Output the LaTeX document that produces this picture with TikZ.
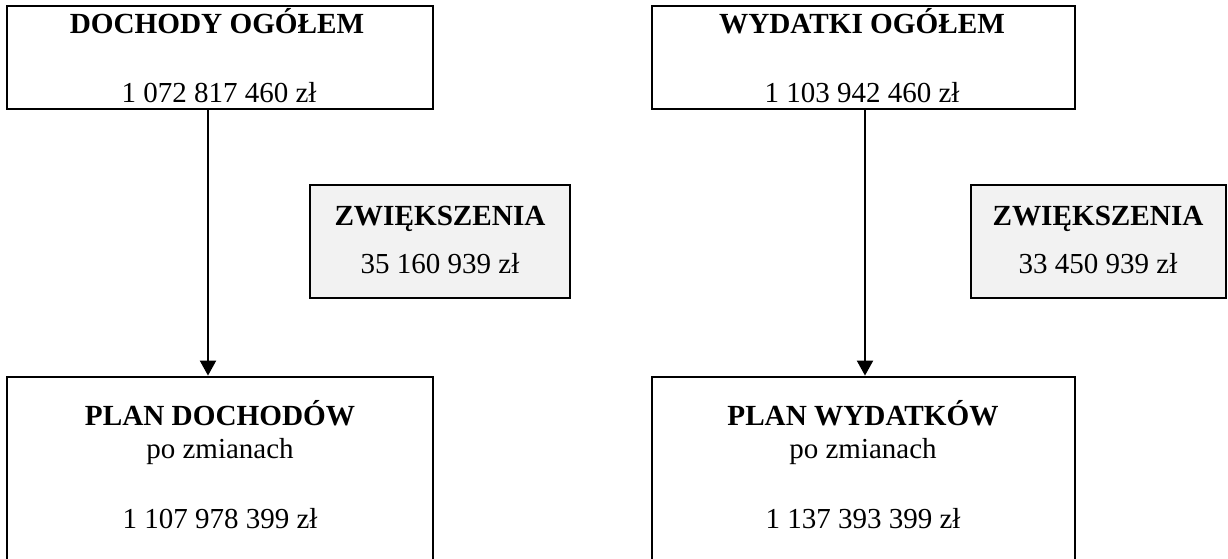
\documentclass[tikz,border=0pt]{standalone}
\usepackage{fontspec}
\setmainfont{Liberation Serif}
\usetikzlibrary{arrows.meta}
\begin{document}
\begin{tikzpicture}[x=0.5pt,y=-0.5pt,
  box/.style={draw,line width=1.4pt,inner sep=0pt},
  plus/.style={box,fill=gray!10},
  head/.style={anchor=base,inner sep=0pt,font=\fontsize{14.6}{17}\selectfont\bfseries},
  body/.style={anchor=base,inner sep=0pt,font=\fontsize{14.5}{17}\selectfont},
  arrow/.style={-{Triangle[width=8pt,length=7.5pt]},line width=1pt}]
\clip (0,0) rectangle (1228,558);
\fill[white] (0,0) rectangle (1228,558);
\node[box,minimum width=213pt,minimum height=51.5pt] (doch) at (220,57.5) {};
\node[box,minimum width=211.5pt,minimum height=51.5pt] (wyd) at (863.5,57.5) {};
\node[plus,minimum width=130pt,minimum height=56.5pt] (zwdoch) at (440,241.5) {};
\node[plus,minimum width=127.5pt,minimum height=56.5pt] (zwwyd) at (1098.5,241.5) {};
\node[box,minimum width=213pt,minimum height=121.5pt] (plandoch) at (220,498.5) {};
\node[box,minimum width=211.5pt,minimum height=121.5pt] (planwyd) at (863.5,498.5) {};
\node[head] (dochT) at (217,33) {DOCHODY OGÓŁEM};
\node[body] (dochN) at (219,102) {1 072 817 460 zł};
\node[head] (wydT) at (862,33) {WYDATKI OGÓŁEM};
\node[body] (wydN) at (862,102) {1 103 942 460 zł};
\node[head] (zwdochT) at (440,225) {ZWIĘKSZENIA};
\node[body] (zwdochN) at (440,273) {35 160 939 zł};
\node[head] (zwwydT) at (1098,225) {ZWIĘKSZENIA};
\node[body] (zwwydN) at (1098,273) {33 450 939 zł};
\node[head] (plandochT) at (220,425) {PLAN DOCHODÓW};
\node[body] (plandochP) at (220,458) {po zmianach};
\node[body] (plandochN) at (220,528) {1 107 978 399 zł};
\node[head] (planwydT) at (863,425) {PLAN WYDATKÓW};
\node[body] (planwydP) at (863,458) {po zmianach};
\node[body] (planwydN) at (863,528) {1 137 393 399 zł};
\draw[arrow] ([xshift=-6pt]doch.south) -- ([xshift=-6pt]plandoch.north);
\draw[arrow] ([xshift=0.75pt]wyd.south) -- ([xshift=0.75pt]planwyd.north);
\end{tikzpicture}
\end{document}
